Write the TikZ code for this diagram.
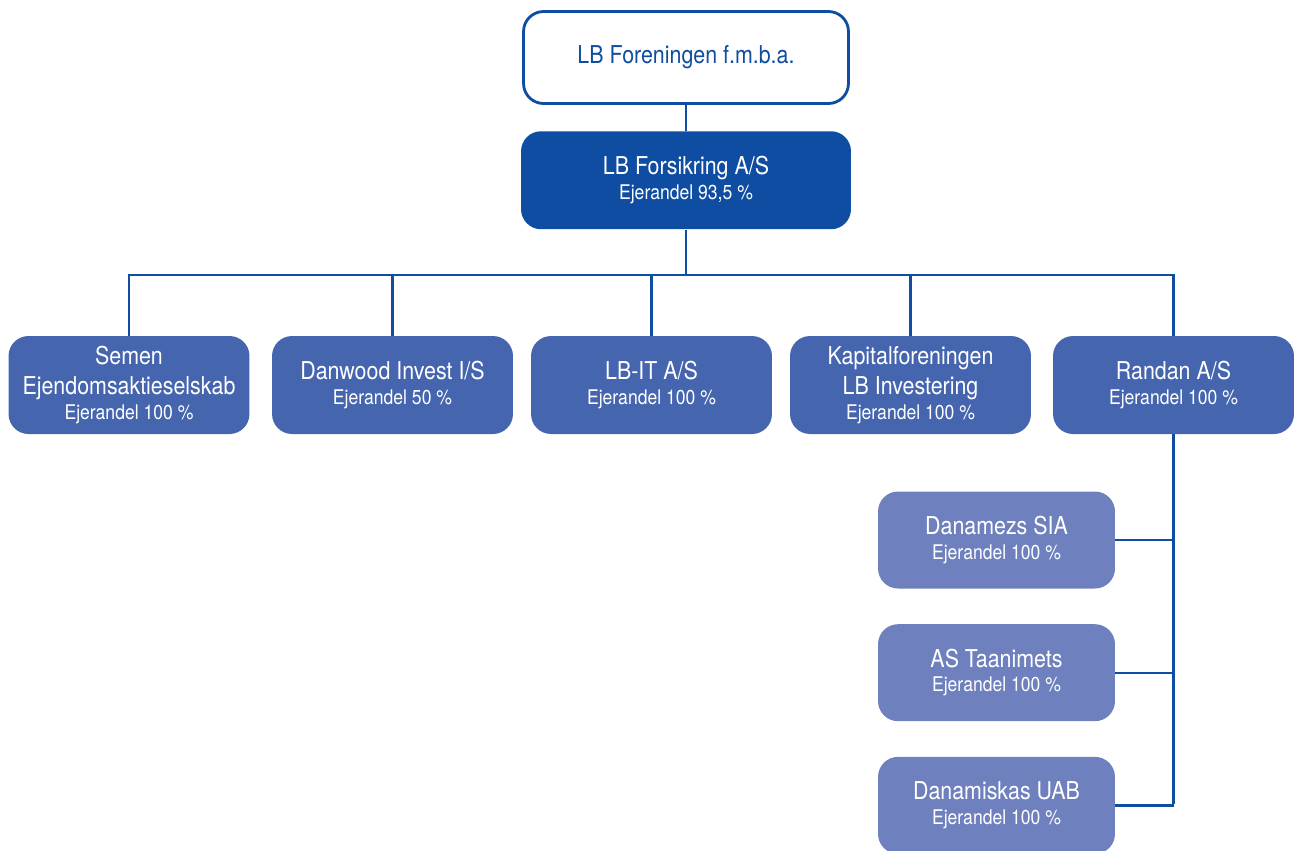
\documentclass[tikz,border=0pt]{standalone}
\usepackage{fontspec}
\setmainfont[FakeStretch=0.87]{TeX Gyre Heros}
\usetikzlibrary{positioning}
\definecolor{lbdark}{HTML}{0E4DA1}
\definecolor{lbmid}{HTML}{4565AF}
\definecolor{lblight}{HTML}{6F80BE}
\newcommand{\ejer}[1]{{\fontsize{11.5}{13}\selectfont Ejerandel #1~\%}}
\tikzset{box/.style={rounded corners=0.4cm, align=center, text=white, inner sep=2pt, font=\fontsize{14}{17}\selectfont}}
\tikzset{holdbox/.style={box, draw=lbdark, line width=1.6pt, fill=white, text=lbdark, minimum width=6.5cm, minimum height=1.84cm}}
\tikzset{topbox/.style={box, fill=lbdark, minimum width=6.6cm, minimum height=1.96cm}}
\tikzset{subbox/.style={box, fill=lbmid, minimum width=4.82cm, minimum height=1.96cm}}
\tikzset{leafbox/.style={box, fill=lblight, minimum width=4.74cm, minimum height=1.94cm}}
\tikzset{link/.style={draw=lbdark, line width=1.3pt}}
\begin{document}
\begin{tikzpicture}[x=0.02cm, y=-0.02cm]
	\useasboundingbox (0,0) rectangle (1295,850);
	\node[holdbox] (lbf) at (686,57.5) {LB Foreningen f.m.b.a.};
	\node[topbox, below=0.52cm of lbf] (lbfors) {LB Forsikring A/S\\[-3pt]\ejer{93,5}};
	% datterselskaber
	\node[subbox] (semen) at (129,385) {Semen\\Ejendomsaktieselskab\\[-3pt]\ejer{100}};
	\node[subbox] (danwood) at (392.5,385) {Danwood Invest I/S\\[-3pt]\ejer{50}};
	\node[subbox] (lbit) at (651.5,385) {LB-IT A/S\\[-3pt]\ejer{100}};
	\node[subbox] (kapital) at (910.5,385) {Kapitalforeningen\\LB Investering\\[-3pt]\ejer{100}};
	\node[subbox] (randan) at (1173.5,385) {Randan A/S\\[-3pt]\ejer{100}};
	% Randan
	\node[leafbox] (danamezs) at (996.5,540) {Danamezs SIA\\[-3pt]\ejer{100}};
	\node[leafbox, below=0.7cm of danamezs] (taanimets) {AS Taanimets\\[-3pt]\ejer{100}};
	\node[leafbox, below=0.7cm of taanimets] (danamiskas) {Danamiskas UAB\\[-3pt]\ejer{100}};
	\coordinate (bus) at (686,275);
	\coordinate (spine) at (1173.5,804);
	\draw[link] (lbf) -- (lbfors);
	\draw[link] (lbfors) -- (bus);
	\foreach \n in {semen,danwood,lbit,kapital,randan}
		\draw[link] (\n) |- (bus);
	\draw[link] (randan) -- (spine);
	\foreach \n in {danamezs,taanimets,danamiskas}
		\draw[link] (\n) -- (\n -| spine);
\end{tikzpicture}
\end{document}
